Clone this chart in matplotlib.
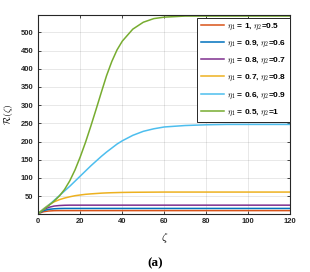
import numpy as np
import matplotlib
matplotlib.use('Agg')
import matplotlib.pyplot as plt

# values
zeta = [0, 2.5, 5, 7.5, 10, 12.5, 15, 17.5, 20, 22.5, 25, 27.5, 30, 32.5, 35, 37.5,
        40, 45, 50, 55, 60, 70, 80, 90, 100, 110, 120]

r_red    = [2, 7, 9, 9.8, 10, 10, 10, 10, 10, 10, 10, 10, 10, 10, 10, 10,
            10, 10, 10, 10, 10, 10, 10, 10, 10, 10, 10]
r_blue   = [2, 10, 13.5, 15, 15.7, 16, 16, 16, 16, 16, 16, 16, 16, 16, 16, 16,
            16, 16, 16, 16, 16, 16, 16, 16, 16, 16, 16]
r_purple = [2, 13, 19, 22.5, 24, 24.7, 25, 25, 25, 25, 25, 25, 25, 25, 25, 25,
            25, 25, 25, 25, 25, 25, 25, 25, 25, 25, 25]
r_yellow = [2, 15, 26, 34, 40, 44.5, 48, 51, 53, 54.8, 56, 57, 58, 58.7, 59.2, 59.6,
            60, 60.4, 60.6, 60.8, 61, 61, 61, 61, 61, 61, 61]
r_cyan   = [2, 14, 25, 38, 51, 64, 77, 91, 105, 119, 133, 146, 159, 171, 182, 193,
            202, 217, 228, 235, 240, 244, 246, 247, 247, 247, 247]
r_green  = [2, 13, 24, 36, 50, 68, 92, 122, 158, 198, 242, 288, 335, 381, 420, 452,
            476, 509, 528, 538, 542, 545, 545, 545, 545, 545, 545]

series = [r_red, r_blue, r_purple, r_yellow, r_cyan, r_green]
labels = [r'$\eta_1$ = 1, $\eta_2$=0.5', r'$\eta_1$ = 0.9, $\eta_2$=0.6',
          r'$\eta_1$ = 0.8, $\eta_2$=0.7', r'$\eta_1$ = 0.7, $\eta_2$=0.8',
          r'$\eta_1$ = 0.6, $\eta_2$=0.9', r'$\eta_1$ = 0.5, $\eta_2$=1']
colors = ['#D95319', '#0072BD', '#7E2F8E', '#EDB120', '#4DBEEE', '#77AC30']

plt.rcParams['font.family'] = ['Liberation Sans', 'DejaVu Sans']
plt.rcParams['mathtext.fontset'] = 'cm'

fig = plt.figure(figsize=(3.10, 2.72), dpi=100)
ax = fig.add_axes([0.1235, 0.215, 0.813, 0.730])

for s, l, c in zip(series, labels, colors):
  ax.plot(zeta, s, color=c, lw=1.1, label=l)

ax.set_xlim(0, 120)
ax.set_ylim(2, 548)
ax.set_xticks(np.arange(0, 121, 20))
ax.set_yticks(np.arange(50, 501, 50))
ax.grid(True, color='#262626', alpha=0.15, lw=0.5)
ax.tick_params(direction='in', length=2.5, width=0.6, labelsize=5.5, colors='#262626',
               top=True, right=True, pad=3.5)
for lab in ax.get_xticklabels() + ax.get_yticklabels():
  lab.set_fontweight('bold')
for sp in ax.spines.values():
  sp.set_linewidth(0.8)
  sp.set_color('#262626')

ax.set_xlabel(r'$\zeta$', fontsize=8, labelpad=4)
ax.set_ylabel(r'$\mathcal{R}(\zeta)$', fontsize=7, labelpad=4)

leg = ax.legend(loc='upper right', bbox_to_anchor=(1.0, 0.985), borderaxespad=0,
                prop={'size': 6, 'weight': 'bold'}, handlelength=2.8,
                handletextpad=0.3, labelspacing=0.82, fancybox=False,
                edgecolor='#262626', framealpha=1, borderpad=0.5)
leg.get_frame().set_linewidth(0.7)

fig.text(0.5, 0.02, '(a)', fontsize=9.5, fontweight='bold', family='Liberation Serif',
         ha='center')

fig.savefig('out.png', dpi=100)
